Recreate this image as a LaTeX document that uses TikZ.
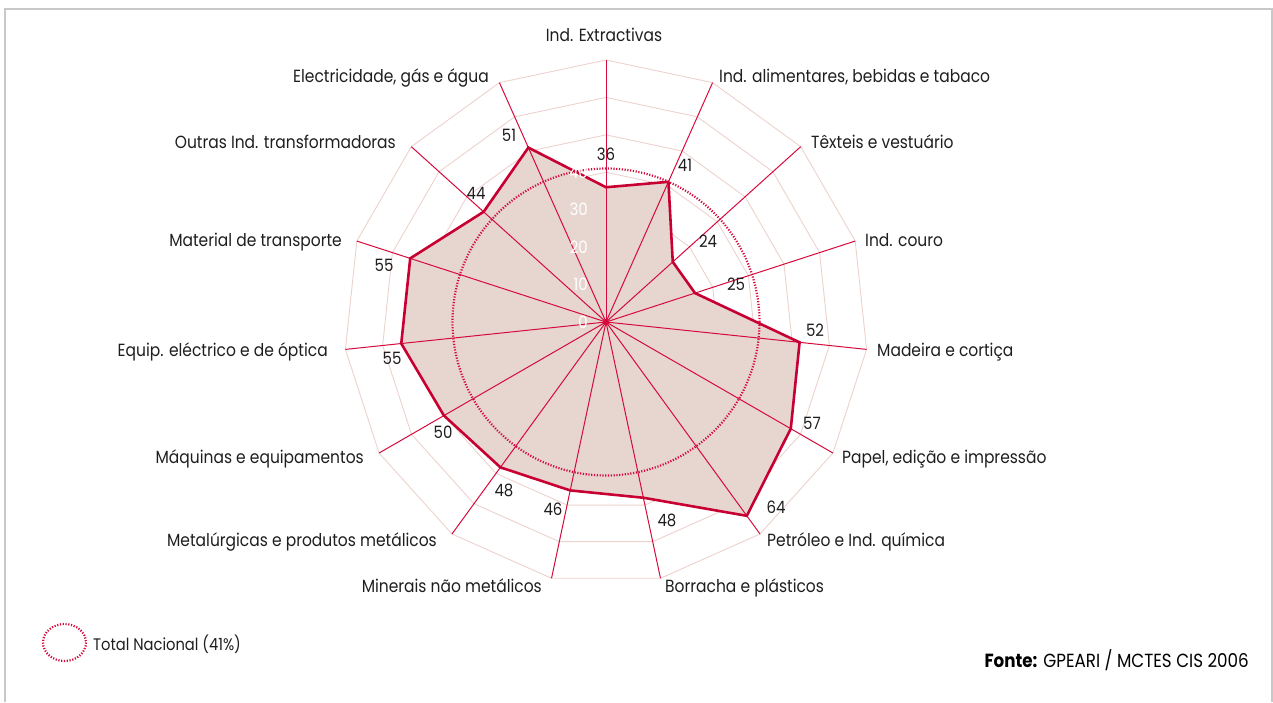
\documentclass[tikz,border=0pt]{standalone}
\usepackage{fontspec}
\setmainfont{Poppins}[FakeStretch=0.88]
\definecolor{axiscol}{RGB}{214,10,60}
\definecolor{datacol}{RGB}{200,0,50}
\definecolor{ringcol}{RGB}{236,210,205}
\definecolor{fillcol}{RGB}{231,214,208}
\definecolor{framecol}{RGB}{200,200,200}
\definecolor{txtcol}{RGB}{30,30,30}
\begin{document}
\begin{tikzpicture}[x=1pt,y=-1pt,
  catlab/.style={font=\fontsize{17.6}{20}\selectfont, text=txtcol, inner sep=0pt},
  vallab/.style={font=\fontsize{17}{19}\selectfont, text=txtcol, inner sep=0pt},
  ticklab/.style={font=\fontsize{17}{19}\selectfont, text=white, inner sep=0pt, anchor=east},
  ring/.style={draw=ringcol, line width=0.9pt},
  axisline/.style={draw=axiscol, line width=1pt},
  dataline/.style={draw=datacol, line width=2.6pt, line join=miter},
  dotline/.style={draw=axiscol, line width=2.2pt, dash pattern=on 1.2pt off 1.6pt}
]
\useasboundingbox (0,0) rectangle (1273,702);
% frame
\draw[framecol, line width=2pt] (5,702) -- (5,8.5) -- (1271.5,8.5) -- (1271.5,702);

\coordinate (c) at (606,322);
% outer axis ends
\foreach \k in {0,...,14}{
  \coordinate (a\k) at ({606+262*sin(24*\k)},{322-262*cos(24*\k)});
}
% data points
\foreach \v [count=\i from 0] in {36,41,24,25,52,57,64,48,46,48,50,55,55,44,51}{
  \coordinate (p\i) at ({606+\v*3.743*sin(24*\i)},{322-\v*3.743*cos(24*\i)});
}
% rings
\foreach \r in {1,...,7}{
  \draw[ring] plot[samples at={0,24,...,336}] ({606+\r*37.43*sin(\x)},{322-\r*37.43*cos(\x)}) -- cycle;
}
% fill
\fill[fillcol] (p0) \foreach \i in {1,...,14}{ -- (p\i)} -- cycle;
% axes
\foreach \k in {0,...,14}{
  \draw[axisline] (c) -- (a\k);
}
% data outline
\draw[dataline] (p0) \foreach \i in {1,...,14}{ -- (p\i)} -- cycle;
% total nacional circle
\draw[dotline] (c) circle[radius=153.5];
\fill[axiscol] (c) circle[radius=3];
% tick labels
\node[ticklab] (t0) at (588,322) {0};
\node[ticklab] (t10) at (588,284.6) {10};
\node[ticklab] (t20) at (588,247.1) {20};
\node[ticklab] (t30) at (588,209.7) {30};
\node[ticklab] (t40) at (588,172.3) {40};
% value labels
\node[vallab] (v0) at (606,154) {36};
\node[vallab] (v1) at (685,165) {41};
\node[vallab] (v2) at (708,241) {24};
\node[vallab] (v3) at (736,284) {25};
\node[vallab] (v4) at (815,330) {52};
\node[vallab] (v5) at (812,423) {57};
\node[vallab] (v6) at (776,507) {64};
\node[vallab] (v7) at (667,520) {48};
\node[vallab] (v8) at (553,509) {46};
\node[vallab] (v9) at (504,490) {48};
\node[vallab] (v10) at (443,432) {50};
\node[vallab] (v11) at (392,358) {55};
\node[vallab] (v12) at (384,265) {55};
\node[vallab] (v13) at (476,193) {44};
\node[vallab] (v14) at (509,135) {51};
% category labels
\node[catlab, anchor=base] (c0) at (604,41) {Ind. Extractivas};
\node[catlab, anchor=base west] (c1) at (719,82) {Ind. alimentares, bebidas e tabaco};
\node[catlab, anchor=base west] (c2) at (811,148) {Têxteis e vestuário};
\node[catlab, anchor=base west] (c3) at (865,246) {Ind. couro};
\node[catlab, anchor=base west] (c4) at (877,356) {Madeira e cortiça};
\node[catlab, anchor=base west] (c5) at (842,463) {Papel, edição e impressão};
\node[catlab, anchor=base west] (c6) at (767,546) {Petróleo e Ind. química};
\node[catlab, anchor=base west] (c7) at (665,592) {Borracha e plásticos};
\node[catlab, anchor=base east] (c8) at (542,592) {Minerais não metálicos};
\node[catlab, anchor=base east] (c9) at (437,546) {Metalúrgicas e produtos metálicos};
\node[catlab, anchor=base east] (c10) at (364,463) {Máquinas e equipamentos};
\node[catlab, anchor=base east] (c11) at (328,356) {Equip. eléctrico e de óptica};
\node[catlab, anchor=base east] (c12) at (342,246) {Material de transporte};
\node[catlab, anchor=base east] (c13) at (396,148) {Outras Ind. transformadoras};
\node[catlab, anchor=base east] (c14) at (489,82) {Electricidade, gás e água};
% legend
\draw[dotline] (64.5,642.5) ellipse[x radius=21.5, y radius=18.5];
\node[font=\fontsize{16.7}{18}\selectfont, text=txtcol, inner sep=0pt, anchor=base west] (leg) at (93,650) {Total Nacional (41\%)};
% source
\node[font=\fontsize{19}{21}\selectfont, text=black, inner sep=0pt, anchor=base east] (src) at (1249,667) {\textbf{Fonte:} GPEARI / MCTES CIS 2006};
\end{tikzpicture}
\end{document}
